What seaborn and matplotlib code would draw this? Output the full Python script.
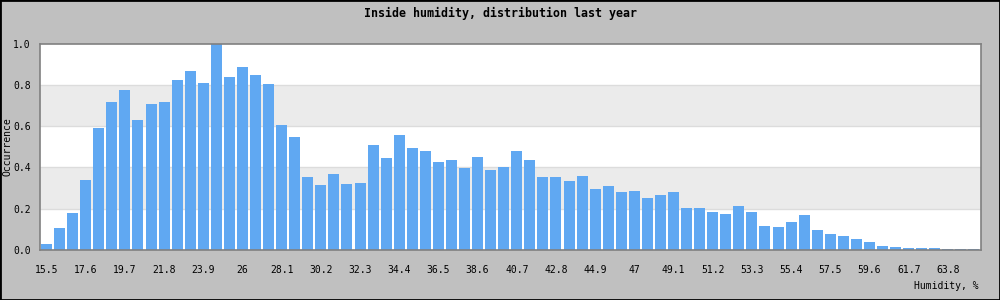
import matplotlib
matplotlib.use("Agg")
import matplotlib.pyplot as plt
import seaborn as sns
import pandas as pd
from matplotlib.patches import Rectangle

humidity = [15.5, 16.2, 16.9, 17.6, 18.3, 19.0, 19.7, 20.4, 21.1, 21.8, 22.5, 23.2,
            23.9, 24.6, 25.3, 26.0, 26.7, 27.4, 28.1, 28.8, 29.5, 30.2, 30.9, 31.6,
            32.3, 33.0, 33.7, 34.4, 35.1, 35.8, 36.5, 37.2, 37.9, 38.6, 39.3, 40.0,
            40.7, 41.4, 42.1, 42.8, 43.5, 44.2, 44.9, 45.6, 46.3, 47.0, 47.7, 48.4,
            49.1, 49.8, 50.5, 51.2, 51.9, 52.6, 53.3, 54.0, 54.7, 55.4, 56.1, 56.8,
            57.5, 58.2, 58.9, 59.6, 60.3, 61.0, 61.7, 62.4, 63.1, 63.8, 64.5, 65.2]
occurrence = [0.029, 0.106, 0.181, 0.339, 0.590, 0.716, 0.774, 0.629, 0.706, 0.716,
              0.823, 0.866, 0.808, 1.000, 0.837, 0.885, 0.847, 0.803, 0.605, 0.547,
              0.353, 0.315, 0.368, 0.319, 0.324, 0.508, 0.445, 0.556, 0.494, 0.479,
              0.426, 0.435, 0.397, 0.450, 0.387, 0.402, 0.479, 0.435, 0.353, 0.353,
              0.334, 0.358, 0.295, 0.310, 0.281, 0.285, 0.252, 0.266, 0.281, 0.203,
              0.203, 0.184, 0.174, 0.213, 0.184, 0.116, 0.111, 0.135, 0.169, 0.097,
              0.077, 0.068, 0.053, 0.039, 0.019, 0.015, 0.010, 0.010, 0.010, 0.005,
              0.005, 0.005]
y_ticks = [0.0, 0.2, 0.4, 0.6, 0.8, 1.0]
title = "Inside humidity, distribution last year"
x_label = "Humidity, %"
y_label = "Occurrence"

FONT = ["DejaVu Sans Mono"]
BG = "#C0C0C0"
BAR = "#60A8F2"
BAND = "#EBEBEB"

plt.rcParams['font.family'] = FONT

df = pd.DataFrame({"humidity": [f"{h:g}" for h in humidity], "occurrence": occurrence})

fig = plt.figure(figsize=(10, 3), dpi=100, facecolor=BG)
ax = fig.add_axes([0.040, 1 - 250 / 300, 0.9405, (250 - 43.5) / 300])
ax.set_facecolor("white")

for lo in (0.2, 0.6):
    ax.axhspan(lo, lo + 0.2, color=BAND, zorder=0, lw=0)
for yv in y_ticks[1:-1]:
    ax.axhline(yv, color="#DCDCDC", lw=1, zorder=0.5)

sns.barplot(data=df, x="humidity", y="occurrence", color=BAR, saturation=1,
            width=0.84, ax=ax, zorder=2)

ax.set_xlim(-0.5, len(humidity) - 0.5)
ax.set_ylim(0, 1.0)
idx = list(range(0, len(humidity), 3))
ax.set_xticks(idx)
ax.set_xticklabels([f"{humidity[i]:g}" for i in idx], fontsize=7)
ax.set_yticks(y_ticks)
ax.set_yticklabels([f"{v:.1f}" for v in y_ticks], fontsize=7)
ax.tick_params(axis="both", length=0)
ax.tick_params(axis="x", pad=10.5)
ax.tick_params(axis="y", pad=6.5)
ax.set_xlabel("")
ax.set_ylabel(y_label, fontsize=7, labelpad=2)
ax.yaxis.set_label_coords(-0.0295, 0.5)
for s in ax.spines.values():
    s.set_color("#808080")
    s.set_linewidth(1.2)

fig.text(0.5, 1 - 13 / 300, title, ha="center", va="center", fontsize=8.4,
         fontweight="bold")
fig.text(0.979, 1 - 286 / 300, x_label, ha="right", va="center", fontsize=7)

fig.patches.append(Rectangle((0, 0), 1, 1, transform=fig.transFigure, fill=False,
                             edgecolor="black", lw=2))

fig.savefig("out.png", dpi=100, facecolor=BG)
